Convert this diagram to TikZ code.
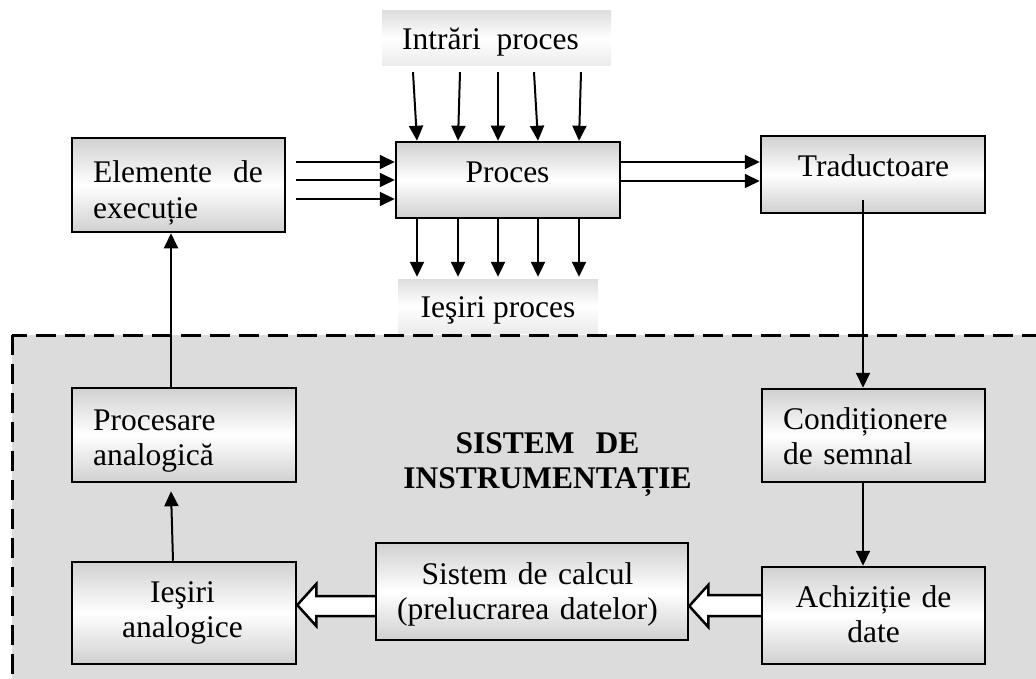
\documentclass[tikz,border=0pt]{standalone}
\usepackage{fontspec}
\setmainfont{Liberation Serif}
\usetikzlibrary{arrows.meta,calc}
\definecolor{bg}{RGB}{220,220,220}
\definecolor{boxg}{RGB}{208,208,208}
\definecolor{tabg}{RGB}{222,222,222}
\begin{document}
\begin{tikzpicture}[x=1pt,y=-1pt,
  box/.style={draw, line width=2.5pt, top color=boxg, bottom color=boxg, middle color=white, inner sep=0pt},
  tab/.style={top color=tabg, bottom color=tabg!60, middle color=white, inner sep=0pt},
  txt/.style={inner sep=0pt, font=\fontsize{31.5}{35.5}\selectfont},
  arr/.style={line width=2pt, -{Triangle[length=15pt,width=14pt]}},
  hollow/.style={line width=2.5pt, fill=white, line join=miter},
  frame/.style={fill=bg, line width=3pt, dash pattern=on 20pt off 9pt}]
\useasboundingbox (0,0) rectangle (1036,679);
\clip (0,0) rectangle (1036,679);

% instrumentation system frame
\draw[frame] (12,335) rectangle (1070,720);

% boxes (shapes)
\node[tab, minimum width=229pt, minimum height=55pt] (intr) at (496.5,38.5) {};
\node[tab, minimum width=200pt, minimum height=54pt] (iesp) at (498,306) {};
\node[box, minimum width=224pt, minimum height=76pt] (proc) at (508,180) {};
\node[box, minimum width=213pt, minimum height=94pt] (elem) at (178.5,185) {};
\node[box, minimum width=224pt, minimum height=77pt] (trad) at (873,174.5) {};
\node[box, minimum width=223pt, minimum height=93pt] (cond) at (873.5,435.5) {};
\node[box, minimum width=223pt, minimum height=97pt] (ach) at (873.5,615.5) {};
\node[box, minimum width=312pt, minimum height=97pt] (sis) at (532,591.5) {};
\node[box, minimum width=224pt, minimum height=102pt] (iesa) at (184,613) {};
\node[box, minimum width=224pt, minimum height=94pt] (procan) at (184,435) {};

% hollow arrows
\coordinate (hA) at ([yshift=-14.5pt]sis.east);
\coordinate (sA1) at ($(hA)+(19,-11)$);
\coordinate (sA2) at ($(hA)+(19,10)$);
\draw[hollow] (sA1 -| ach.west) -- (sA1) -- ($(hA)+(19,-21)$) -- (hA) -- ($(hA)+(19,21)$) -- (sA2) -- (sA2 -| ach.west);
\coordinate (hB) at ([yshift=8pt]iesa.east);
\coordinate (sB1) at ($(hB)+(19,-9)$);
\coordinate (sB2) at ($(hB)+(19,11)$);
\draw[hollow] (sB1 -| sis.west) -- (sB1) -- ($(hB)+(19,-21)$) -- (hB) -- ($(hB)+(19,21)$) -- (sB2) -- (sB2 -| sis.west);

% texts
\node[txt, anchor=base] (intr-t) at (490.5,50) {Intrări\ \ proces};
\node[txt, anchor=base] (iesp-t) at (498,317) {Ieşiri proces};
\node[txt, anchor=base] (proc-t) at (507.5,183) {Proces};
\node[txt, anchor=base] (trad-t) at (873.5,177) {Traductoare};
\node[txt, anchor=base west, text width=190pt, align=left] (elem-t) at (93,183) {Elemente\hspace{21pt}de\\execuție};
\node[txt, anchor=base west, text width=190pt, align=left] (procan-t) at (93,430) {Procesare\\analogică};
\node[txt, anchor=base west, text width=190pt, align=left] (cond-t) at (783,429) {Condiționere\\de semnal};
\node[txt, anchor=base, text width=210pt, align=center] (ach-t) at (873.5,607) {Achiziție de\\date};
\node[txt, anchor=base, text width=300pt, align=center] (sis-t) at (527.5,584) {Sistem de calcul\\(prelucrarea datelor)};
\node[txt, anchor=base, text width=210pt, align=center] (iesa-t) at (182.5,602) {Ieşiri\\analogice};
\node[txt, anchor=base, text width=320pt, align=center, font=\fontsize{31.5}{35.5}\selectfont\bfseries] (title) at (547.5,453) {SISTEM\ \ DE\\INSTRUMENTAȚIE};

% process inputs and outputs
\foreach \a/\b in {-83.5/-91, -36.5/-50, 1.5/-10, 37.5/30, 84.5/71}
  \draw[arr] ([xshift=\a pt, yshift=-6pt]intr.south) -- ([xshift=\b pt]proc.north);
\foreach \a/\b in {-91/-81, -50/-40, -10/0, 30/40, 71/81}
  \draw[arr] ([xshift=\a pt]proc.south) -- ([xshift=\b pt, yshift=2pt]iesp.north);

% execution elements -> process
\foreach \dy/\n in {23/a, 5/b, -14/c} {
  \coordinate (e\n) at ([xshift=10pt, yshift=\dy pt]elem.east);
  \draw[arr] (e\n) -- (e\n -| proc.west);
}
% process -> transducers
\foreach \dy/\n in {18/a, -1/b} {
  \coordinate (p\n) at ([yshift=\dy pt]proc.east);
  \draw[arr] (p\n) -- (p\n -| trad.west);
}
% transducers -> conditioning -> acquisition
\coordinate (t1) at ([xshift=-10pt, yshift=-25.5pt]trad.center);
\draw[arr] (t1) -- (t1 |- cond.north);
\draw[arr] (t1 |- cond.south) -- (t1 |- ach.north);
% analog outputs -> analog processing -> execution elements
\draw[arr] ([xshift=-11pt]iesa.north) -- ([xshift=-13pt, yshift=-8pt]procan.south);
\draw[arr] ([xshift=-13pt]procan.north) -- ([xshift=-7.5pt]elem.south);
\end{tikzpicture}
\end{document}
